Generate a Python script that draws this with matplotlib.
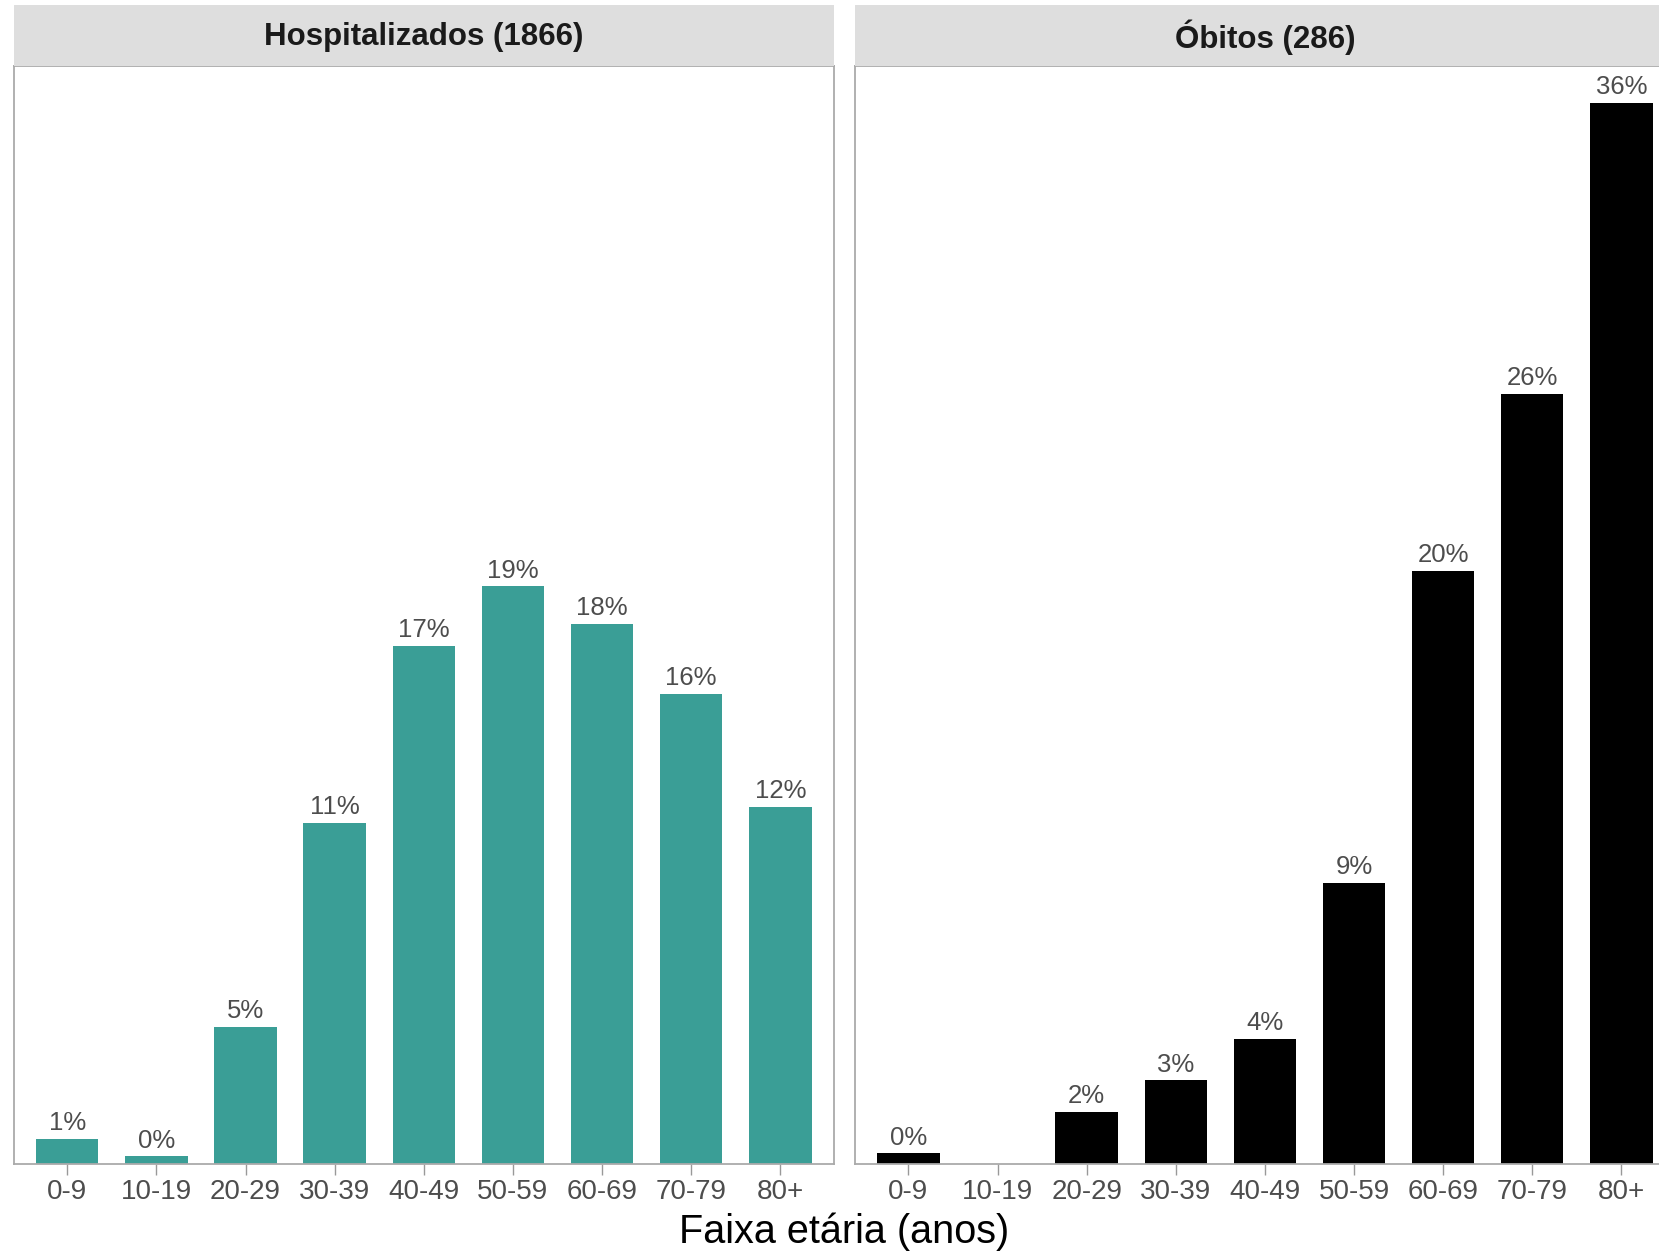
import numpy as np
import matplotlib
matplotlib.use('Agg')
import matplotlib.pyplot as plt
from matplotlib.patches import Rectangle

plt.rcParams['font.family'] = ['Liberation Sans', 'DejaVu Sans']

faixas = ['0-9', '10-19', '20-29', '30-39', '40-49', '50-59', '60-69', '70-79', '80+']
hosp_pct = [0.85, 0.25, 4.6, 11.45, 17.4, 19.4, 18.15, 15.8, 12.0]
obitos_pct = [0.35, np.nan, 1.75, 2.8, 4.2, 9.44, 19.93, 25.87, 35.66]
paineis = ['Hospitalizados (1866)', 'Óbitos (286)']
cores = ['#3A9E96', '#000000']

W, H = 1659, 1253
fig = plt.figure(figsize=(W / 100, H / 100), dpi=100)

ymax = 36.9
x = np.arange(len(faixas))
lefts = [13.8, 854.9]
pw = 820.0
top, bottom = 65.6, 1163.8
strip_top = 5.3

for left, titulo, vals, cor in zip(lefts, paineis, [hosp_pct, obitos_pct], cores):
    ax = fig.add_axes([left / W, 1 - bottom / H, pw / W, (bottom - top) / H])
    vals = np.array(vals, dtype=float)
    ok = ~np.isnan(vals)
    ax.bar(x[ok], vals[ok], width=0.7, color=cor, zorder=2)
    for xi, v in zip(x[ok], vals[ok]):
        ax.text(xi, v + 0.12, f'{round(v):.0f}%', ha='center', va='bottom',
                fontsize=18.5, color='#4D4D4D')
    ax.set_xlim(-0.6, len(faixas) - 0.4)
    ax.set_ylim(0, ymax)
    ax.set_xticks(x)
    ax.set_xticklabels(faixas, fontsize=20, color='#4D4D4D')
    ax.tick_params(axis='x', length=8, width=1, color='#999999', pad=3)
    ax.set_yticks([])
    for s in ax.spines.values():
        s.set_color('#AAAAAA')
        s.set_linewidth(1.3)

    sax = fig.add_axes([left / W, 1 - top / H, pw / W, (top - strip_top) / H])
    sax.set_xlim(0, 1)
    sax.set_ylim(0, 1)
    sax.add_patch(Rectangle((0, 0), 1, 1, color='#DEDEDE'))
    sax.text(0.5, 0.47, titulo, ha='center', va='center', fontsize=22.5,
             fontweight='bold', color='#1A1A1A')
    sax.axis('off')

fig.text(844 / W, 1 - 1232 / H, 'Faixa etária (anos)', ha='center', va='center',
         fontsize=28.5, color='#000000')

fig.savefig('out.png', dpi=100)
